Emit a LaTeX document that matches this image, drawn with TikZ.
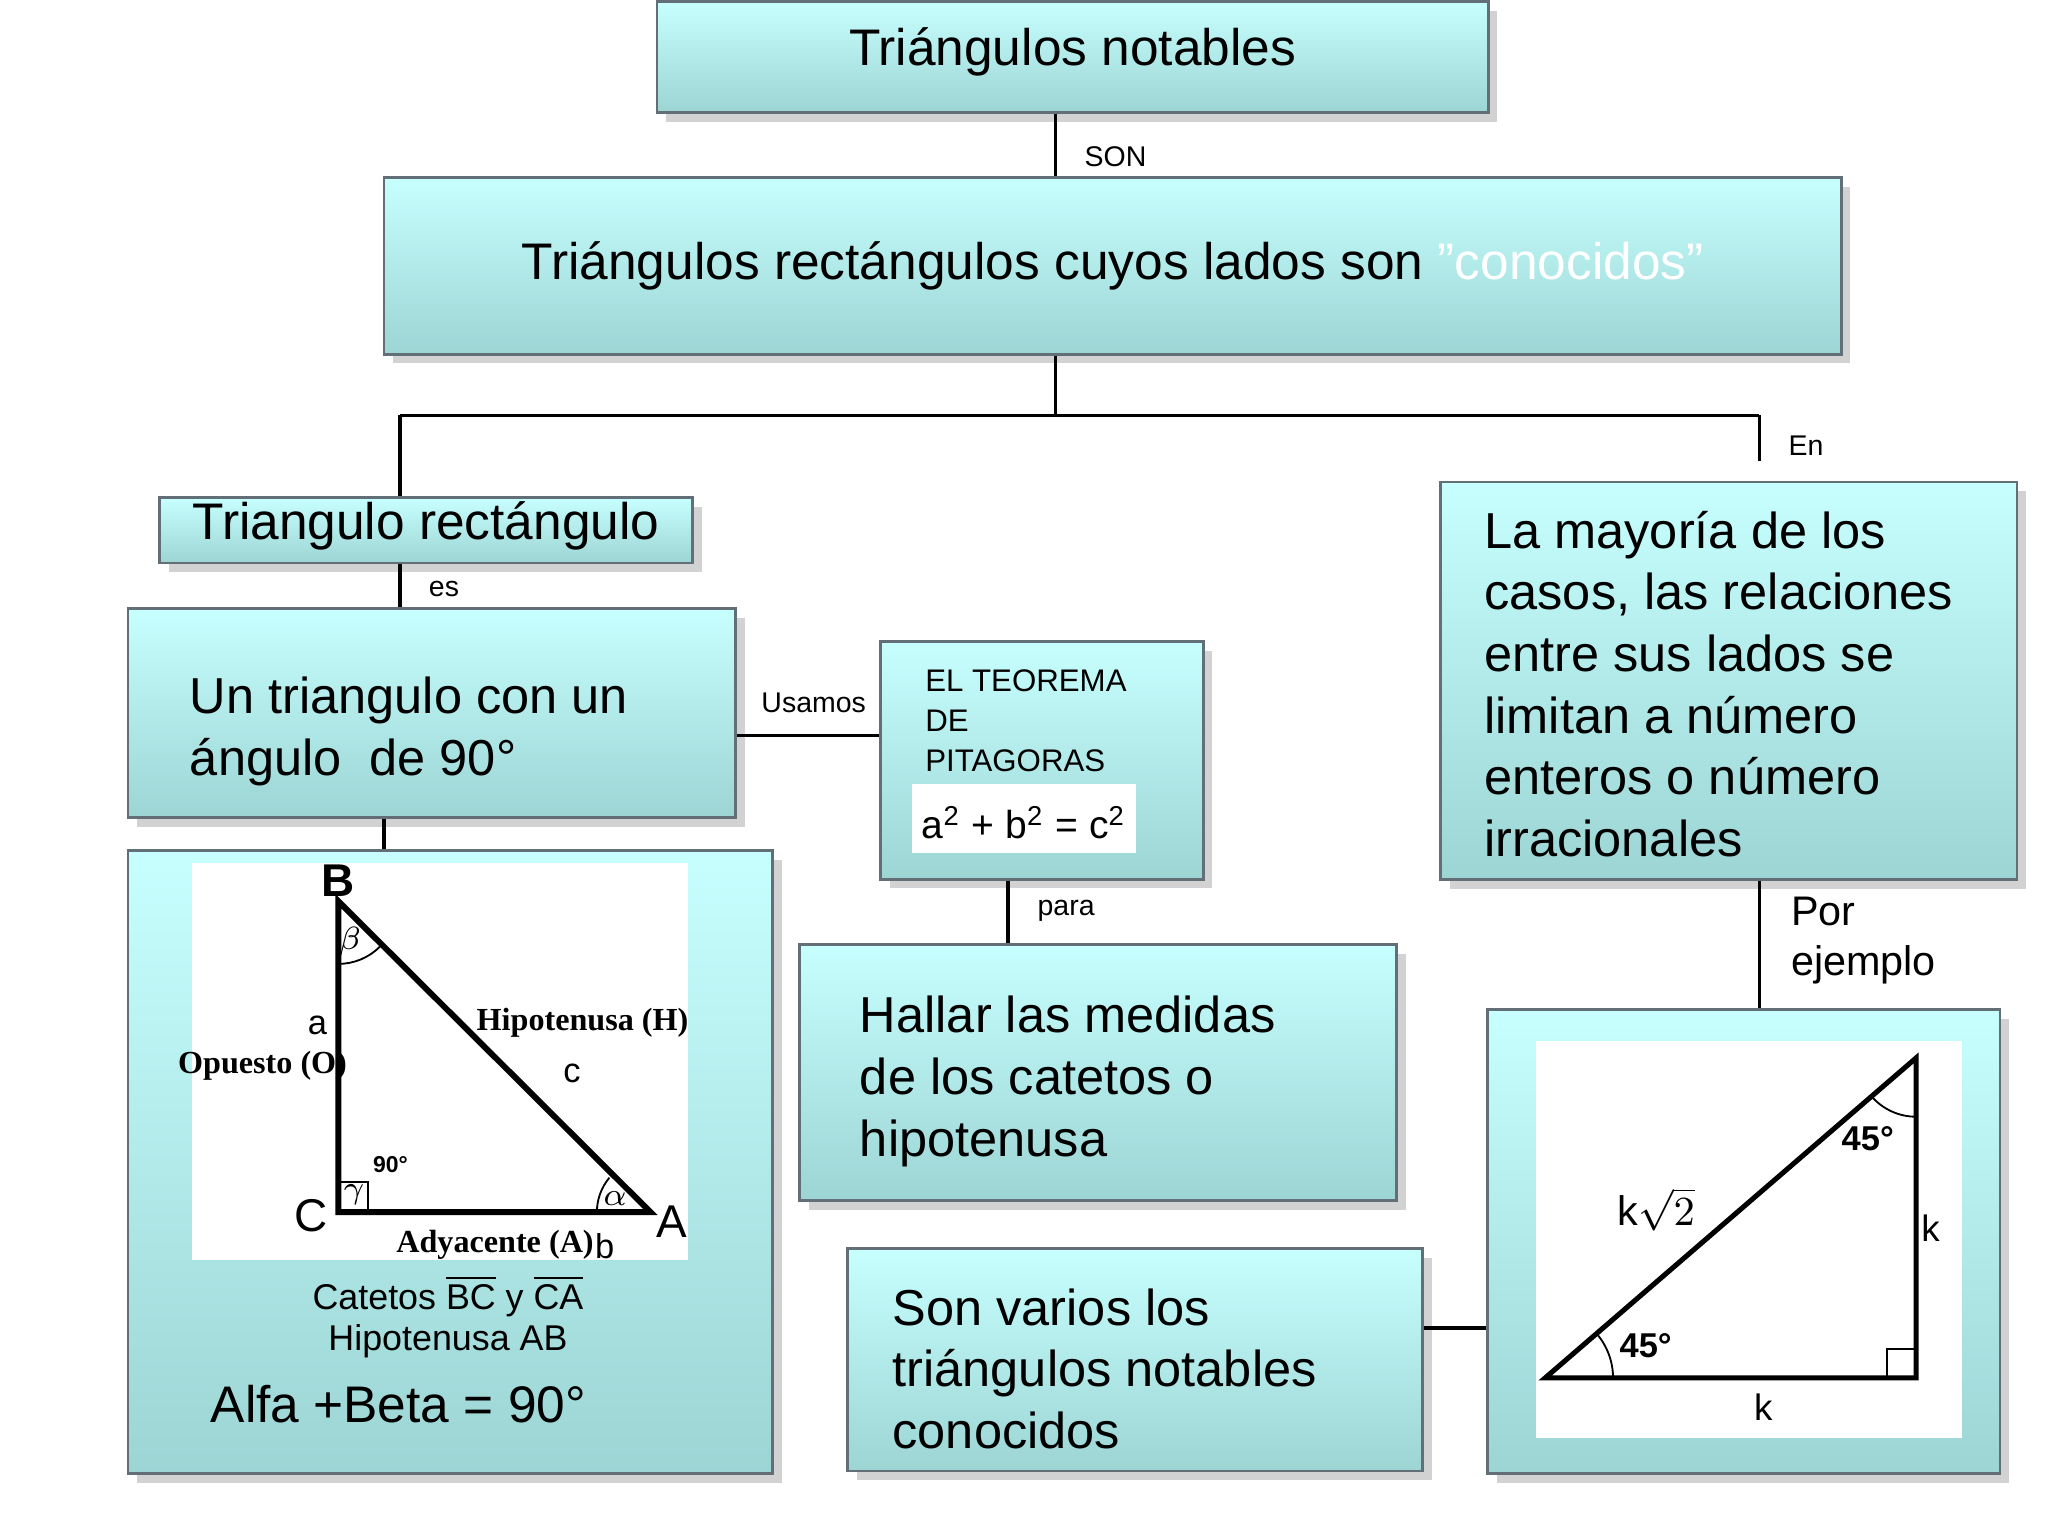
\documentclass[tikz,border=0pt]{standalone}
\usepackage{fontspec}
\setmainfont{Liberation Sans}
\newfontfamily\serifb{Liberation Serif}
\usetikzlibrary{shadows}
\begin{document}
\begin{tikzpicture}[x=0.01cm,y=-0.01cm,
  box/.style={draw=gray!70!cyan!60!black, line width=0.6pt, top color=cyan!22!white, bottom color=cyan!40!gray!55, drop shadow={opacity=0.35,shadow xshift=2pt,shadow yshift=-2pt}, anchor=north west, inner sep=0pt},
  con/.style={line width=0.8pt},
  lab/.style={font=\fontsize{6.2}{7}\selectfont, anchor=west},
  big/.style={font=\fontsize{11}{13.4}\selectfont, align=left}]
\useasboundingbox (0,0) rectangle (1568,1176);
\fill[white] (0,0) rectangle (1568,1176);
% boxes
\node[box, minimum width=6.36cm, minimum height=0.85cm] (n1) at (502,0) {};
\node[font=\fontsize{11.2}{13}\selectfont] at ([yshift=1pt]n1.center) {Triángulos notables};
\node[box, minimum width=11.15cm, minimum height=1.35cm] (n2) at (293,135) {};
\node[font=\fontsize{11.2}{13}\selectfont] at (n2.center) {Triángulos rectángulos cuyos lados son {\color{white}\char"22 conocidos\char"22}};
\node[box, minimum width=4.08cm, minimum height=0.5cm] (n3) at (121,380) {};
\node[font=\fontsize{11.2}{13}\selectfont] at ([yshift=1pt]n3.center) {Triangulo rectángulo};
\node[box, minimum width=4.65cm, minimum height=1.6cm] (n4) at (97,465) {};
\node[big, anchor=west] at (133,560) {Un triangulo con un\\ángulo\ \ de 90°};
\node[box, minimum width=2.47cm, minimum height=1.82cm] (n5) at (673,490) {};
\node[font=\fontsize{6.8}{8.8}\selectfont, align=left, anchor=north west] at (696,500) {EL TEOREMA\\DE\\PITAGORAS};
\fill[white] (698,600) rectangle (870,653);
\node[font=\fontsize{8.5}{10}\selectfont] at (784,630) {a\textsuperscript{2} + b\textsuperscript{2} = c\textsuperscript{2}};
\node[box, minimum width=4.41cm, minimum height=3.04cm] (n6) at (1102,368) {};
\node[big, anchor=north west] at (1124,379) {La mayoría de los\\casos, las relaciones\\entre sus lados se\\limitan a número\\enteros o número\\irracionales};
\node[box, minimum width=4.93cm, minimum height=4.77cm] (n7) at (97,650) {};
\node[box, minimum width=4.57cm, minimum height=1.96cm] (n8) at (611,722) {};
\node[big, anchor=west] at (646,828) {Hallar las medidas\\de los catetos o\\hipotenusa};
\node[box, minimum width=4.4cm, minimum height=1.7cm] (n9) at (648,955) {};
\node[big, anchor=west] at (671,1048) {Son varios los\\triángulos notables\\conocidos};
\node[box, minimum width=3.92cm, minimum height=3.55cm] (n10) at (1138,772) {};
% connectors
\draw[con] (n1.south -| 808,0) -- (n2.north -| 808,0);
\node[lab] at (818,120) {SON};
\coordinate (j) at (808,318);
\draw[con] (n2.south -| j) -- (j);
\draw[con] (306,318) -- (1347,318);
\draw[con] (306,318) -- (n3.north -| 306,0);
\draw[con] (1347,318) -- (1347,353);
\node[lab] at (1357,341) {En};
\draw[con] (n3.south -| 306,0) -- (n4.north -| 306,0);
\node[lab] at (316,451) {es};
\draw[con] (n4.south -| 294,0) -- (n7.north -| 294,0);
\draw[con] (n4.east |- 0,563) -- (n5.west |- 0,563);
\node[lab, anchor=center] at (623,538) {Usamos};
\draw[con] (n5.south -| 772,0) -- (n8.north -| 772,0);
\node[lab] at (782,697) {para};
\draw[con] (n6.south -| 1347,0) -- (n10.north -| 1347,0);
\node[font=\fontsize{9}{11}\selectfont, align=left, anchor=west] at (1359,720) {Por\\ejemplo};
\draw[con] (n9.east |- 0,1017) -- (n10.west |- 0,1017);
% triangle figure 1
\fill[white] (147,661) rectangle (527,965);
\draw[line width=1.3pt] (259,690) -- (259,928) -- (498,928) -- cycle;
\draw (259,905) -| (282,928);
\draw (259,738) arc[start angle=270, end angle=315, radius=0.45cm];
\draw (457,928) arc[start angle=180, end angle=140, radius=0.41cm];
\node[font=\bfseries\fontsize{10}{12}\selectfont] at (259,674) {B};
\node[font=\fontsize{10}{12}\selectfont] at (238,931) {C};
\node[font=\fontsize{10}{12}\selectfont] at (514,935) {A};
\node[font=\scriptsize] at (268,721) {$\beta$};
\node[font=\scriptsize] at (271,915) {$\gamma$};
\node[font=\scriptsize] at (471,918) {$\alpha$};
\node[font=\fontsize{5}{6}\selectfont\bfseries] at (299,892) {90°};
\node[font=\serifb\bfseries\fontsize{7}{8}\selectfont] at (446,783) {Hipotenusa (H)};
\node[font=\serifb\bfseries\fontsize{7}{8}\selectfont] at (201,816) {Opuesto (O)};
\node[font=\serifb\bfseries\fontsize{7}{8}\selectfont] at (379,953) {Adyacente (A)};
\node[font=\fontsize{7.5}{9}\selectfont] at (243,785) {a};
\node[font=\fontsize{7.5}{9}\selectfont] at (438,822) {c};
\node[font=\fontsize{7.5}{9}\selectfont] at (463,954) {b};
\node[font=\fontsize{7.8}{9}\selectfont, align=center] at (343,1008) {Catetos $\overline{\mbox{BC}}$ y $\overline{\mbox{CA}}$\\Hipotenusa AB};
\node[font=\fontsize{11.2}{13}\selectfont] at (305,1075) {Alfa +Beta = 90°};
% triangle figure 2
\fill[white] (1176,797) rectangle (1502,1101);
\draw[line width=1.1pt] (1183,1055) -- (1467,1055) -- (1467,810) -- cycle;
\draw (1445,1055) |- (1467,1033);
\draw (1235,1055) arc[start angle=0, end angle=41, radius=0.52cm];
\draw (1467,855) arc[start angle=270, end angle=221, radius=0.45cm];
\node[font=\bfseries\fontsize{7.5}{9}\selectfont] at (1430,872) {45°};
\node[font=\bfseries\fontsize{7.5}{9}\selectfont] at (1260,1030) {45°};
\node[font=\fontsize{9}{11}\selectfont] at (1268,926) {k$\sqrt{2}$};
\node[font=\fontsize{8}{10}\selectfont] at (1478,940) {k};
\node[font=\fontsize{8}{10}\selectfont] at (1350,1077) {k};
\end{tikzpicture}
\end{document}
